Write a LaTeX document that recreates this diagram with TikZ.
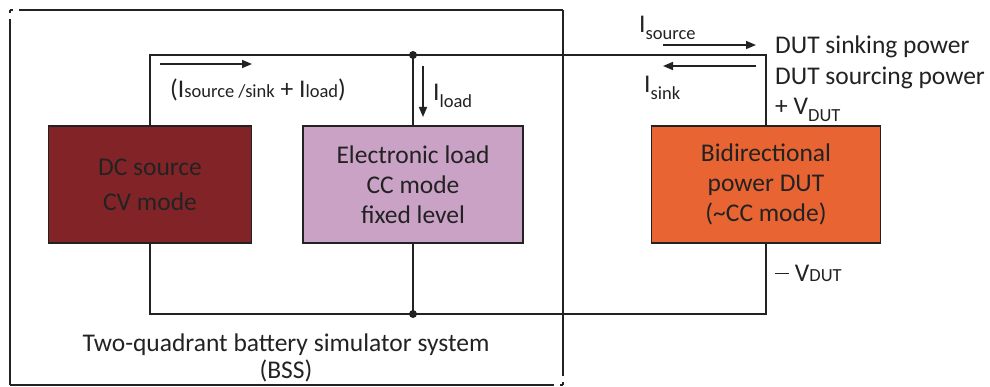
\documentclass[tikz,border=0pt]{standalone}
\usepackage{fontspec}
\setmainfont{Carlito}
\usetikzlibrary{arrows.meta}
\definecolor{dcred}{HTML}{822427}
\definecolor{loadpink}{HTML}{C9A2C6}
\definecolor{dutorange}{HTML}{E86433}
\definecolor{txt}{HTML}{222222}
\newcommand{\bigtxt}{\fontsize{25.5}{30}\selectfont}
\newcommand{\captxt}{\fontsize{25.5}{27}\selectfont}
\newcommand{\smtxt}[1]{{\fontsize{18.5}{20}\selectfont #1}}
\newcommand{\lowtxt}[1]{\raisebox{-7pt}{\smtxt{#1}}}
\begin{document}
\begin{tikzpicture}[x=1pt,y=-1pt,
  wire/.style={draw=txt,line width=1.6pt},
  arr/.style={draw=txt,line width=1.6pt,-{Triangle[length=10pt,width=8pt]}},
  blockbox/.style={draw=txt,line width=1.6pt,minimum height=117pt,align=center,text=txt,font=\bigtxt,inner sep=0pt},
  lbl/.style={text=txt,font=\bigtxt,inner sep=0pt},
  dot/.style={circle,fill=txt,minimum size=8pt,inner sep=0pt}]
\useasboundingbox (0,0) rectangle (990,387);
% dashed system border
\draw[txt,line width=1.4pt,dash pattern=on 3pt off 6pt on 2000pt] (10,10) -- (563,10);
\draw[txt,line width=1.4pt,dash pattern=on 3pt off 6pt on 2000pt] (10,10) -- (10,385);
\draw[txt,line width=1.4pt,dash pattern=on 3pt off 6pt on 2000pt] (563,385) -- (563,10);
\draw[txt,line width=1.4pt,dash pattern=on 3pt off 6pt on 2000pt] (563,385) -- (10,385);
% blocks
\node[blockbox,fill=dcred,minimum width=203pt] (dc) at (150,184.5) {DC source\\[5pt]CV mode};
\node[blockbox,fill=loadpink,minimum width=220pt] (load) at (413,184.5) {Electronic load\\CC mode\\fixed level};
\node[blockbox,fill=dutorange,minimum width=229pt] (dut) at (766,184.5) {Bidirectional\\power DUT\\(\textasciitilde CC mode)};
% junctions
\coordinate (tj) at (413,55);
\coordinate (bj) at (413,314);
\node[dot] (tdot) at (tj) {};
\node[dot] (bdot) at (bj) {};
% wires
\draw[wire] (dc.north) |- (tj) -- (tj -| dut.north) -- (dut.north);
\draw[wire] (tj) -- (load.north);
\draw[wire] (dc.south) |- (bj) -- (bj -| dut.south) -- (dut.south);
\draw[wire] (bj) -- (load.south);
% current arrows
\coordinate (a1s) at (160,64); \coordinate (a1e) at (252,64);
\draw[arr] (a1s) -- (a1e);
\node[lbl,anchor=west] (sumlbl) at (170,90) {(I\smtxt{source /sink} + I\smtxt{load})};
\coordinate (a2s) at (423,66); \coordinate (a2e) at (423,117);
\draw[arr] (a2s) -- (a2e);
\node[lbl,anchor=west] (iload) at (433,96) {I\lowtxt{load}};
\coordinate (a3s) at (663,45); \coordinate (a3e) at (756,45);
\draw[arr] (a3s) -- (a3e);
\coordinate (a4s) at (756,66); \coordinate (a4e) at (663,66);
\draw[arr] (a4s) -- (a4e);
\node[lbl,anchor=west] (isrc) at (639,28) {I\lowtxt{source}};
\node[lbl,anchor=west] (isnk) at (644,88) {I\lowtxt{sink}};
% right side labels
\node[lbl,anchor=west] (sinking) at (775,47) {DUT sinking power};
\node[lbl,anchor=west] (sourcing) at (775,78) {DUT sourcing power};
\node[lbl,anchor=west] (vplus) at (775,110) {+ V\lowtxt{DUT}};
\node[lbl,anchor=west] (vminus) at (775,273) {\rule[7pt]{14pt}{1.6pt} V\smtxt{DUT}};
% system caption
\node[lbl,align=center,font=\captxt] (cap) at (286,358) {Two-quadrant battery simulator system\\(BSS)};
\end{tikzpicture}
\end{document}
